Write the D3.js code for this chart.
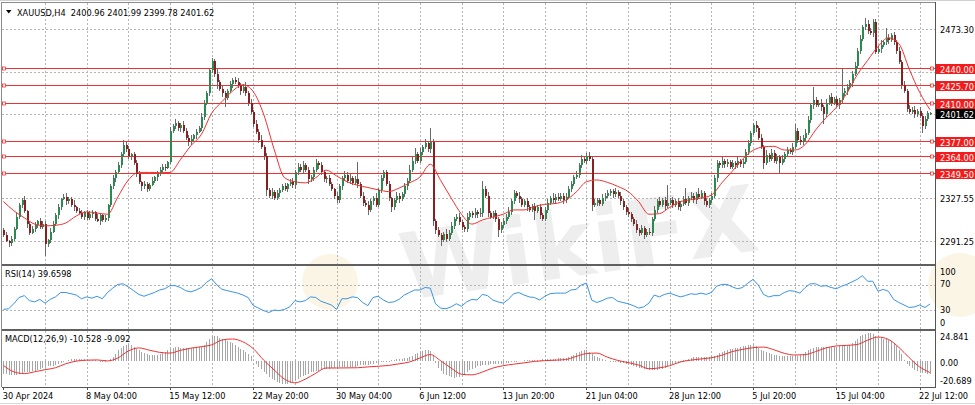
<!DOCTYPE html>
<html><head><meta charset="utf-8">
<script src="https://cdn.jsdelivr.net/npm/d3@7/dist/d3.min.js"></script>
<style>html,body{margin:0;padding:0;background:#fff;overflow:hidden}svg{display:block}</style>
</head><body><svg id="c" width="975" height="405"></svg>
<script>
// ---------------- DATA ----------------
const header = "XAUUSD,H4  2400.96 2401.99 2399.78 2401.62";
const rsiTitle = "RSI(14) 39.6598";
const macdTitle = "MACD(12,26,9) -10.528 -9.092";
const firstOpen = 2300;
const closes = [
2296,2291,2289,2293,2301,2312,2322,2326,2317,2306,2298,2301,2305,2308,2303,2306,2288,2292,2299,2306,
2313,2320,2327,2329,2325,2327,2322,2320,2317,2315,2312,2316,2311,2314,2316,2310,2308,2313,2309,2311,
2322,2338,2345,2350,2356,2366,2374,2370,2364,2366,2358,2349,2342,2338,2340,2336,2339,2343,2346,2349,
2352,2355,2354,2359,2386,2390,2393,2388,2391,2386,2380,2376,2379,2382,2385,2388,2398,2410,2418,2438,
2446,2435,2428,2422,2418,2414,2420,2426,2430,2428,2425,2420,2424,2418,2410,2402,2392,2385,2378,2372,
2364,2335,2330,2333,2328,2332,2335,2338,2336,2340,2342,2339,2350,2355,2352,2356,2352,2344,2346,2352,
2358,2356,2350,2344,2345,2340,2336,2330,2326,2338,2345,2348,2343,2345,2341,2344,2340,2330,2324,2322,
2318,2325,2328,2322,2335,2345,2350,2340,2328,2320,2326,2330,2327,2331,2338,2343,2352,2360,2366,2360,
2368,2372,2375,2370,2376,2308,2300,2296,2292,2297,2293,2298,2304,2310,2312,2307,2303,2301,2312,2315,
2313,2316,2314,2315,2336,2330,2315,2312,2315,2310,2300,2305,2308,2312,2316,2325,2332,2330,2327,2322,
2325,2320,2318,2321,2317,2320,2313,2310,2318,2324,2328,2326,2329,2327,2330,2326,2329,2336,2340,2346,
2348,2356,2362,2360,2364,2362,2322,2324,2326,2323,2328,2330,2332,2334,2331,2333,2330,2325,2320,2316,
2314,2310,2306,2300,2298,2302,2296,2299,2298,2310,2318,2325,2322,2326,2321,2324,2326,2322,2325,2320,
2323,2327,2324,2328,2330,2326,2331,2329,2332,2325,2322,2326,2330,2345,2358,2356,2360,2357,2359,2355,
2358,2356,2360,2357,2359,2368,2375,2384,2391,2388,2380,2372,2358,2365,2362,2367,2360,2363,2358,2362,
2366,2369,2368,2372,2386,2378,2376,2380,2384,2395,2408,2412,2408,2410,2406,2400,2410,2415,2410,2413,
2408,2412,2418,2420,2424,2427,2435,2442,2455,2465,2475,2478,2472,2470,2480,2454,2456,2460,2462,2466,
2464,2468,2462,2455,2445,2425,2420,2405,2402,2404,2400,2403,2399,2390,2396,2400.96,2401.62];
const wickUp = [
2,3,1,2,2,3,2,2,4,1,2,3,2,1,3,2,2,1,3,2,
2,3,1,2,3,2,2,4,1,2,3,1,2,3,2,1,4,2,1,2,
1,2,3,2,3,2,4,2,3,1,2,3,2,1,3,2,2,3,1,2,
3,2,2,1,3,2,3,1,2,3,2,2,3,1,2,2,3,2,2,1,
3,2,4,2,3,2,2,3,1,2,3,2,2,4,2,3,2,3,2,4,
2,3,2,4,2,3,2,2,3,1,2,3,2,3,2,4,2,3,2,3,
4,2,3,2,2,3,2,1,3,2,2,3,2,4,2,3,15,2,3,2,
3,2,2,4,2,3,2,2,3,1,2,3,2,2,3,2,4,3,5,2,
3,2,4,2,12,3,2,3,2,2,4,2,3,2,2,3,2,2,3,2,
2,3,2,4,7,2,3,2,2,3,2,2,3,2,4,2,3,2,3,2,
2,3,2,2,3,2,3,2,2,3,2,4,2,3,2,2,3,2,3,2,
3,2,3,2,3,4,2,3,2,2,3,2,3,2,2,4,2,3,2,2,
3,2,2,3,2,3,2,2,3,2,3,2,4,2,3,15,2,3,2,3,
2,3,10,2,3,2,2,6,3,2,3,2,2,3,3,2,3,2,3,2,
3,2,3,2,3,2,3,2,2,3,2,3,2,4,2,3,2,3,2,3,
2,3,2,3,6,2,3,2,3,4,2,12,3,2,3,2,3,2,3,2,
3,2,22,3,2,3,2,3,2,3,2,5,3,2,2,2,3,4,2,8,
3,2,3,2,3,2,4,2,3,2,3,2,3,2,3,2,0.37];
const wickDn = [
2,1,3,2,2,1,2,3,2,4,2,1,2,3,2,2,10,2,3,1,
2,3,2,1,3,2,2,3,2,1,2,3,2,2,3,2,1,3,2,2,
3,2,2,3,1,2,3,2,2,3,2,3,2,4,2,3,2,1,2,3,
2,2,3,1,2,2,3,2,3,2,2,3,2,2,3,1,2,3,2,2,
2,3,6,2,3,8,2,2,3,2,2,3,2,2,3,2,3,2,3,2,
3,5,2,3,2,2,3,2,2,3,2,2,3,2,2,3,2,4,2,3,
2,3,2,2,3,2,2,3,2,2,3,2,2,3,2,2,3,2,3,2,
5,2,3,2,2,3,2,2,3,4,2,2,3,2,2,3,2,2,3,2,
2,3,2,2,3,4,3,2,5,2,3,2,2,3,2,2,3,2,2,3,
2,2,3,2,3,2,3,2,2,3,6,2,3,2,2,3,2,2,3,2,
2,3,2,2,8,2,3,2,2,3,2,2,3,2,2,3,2,2,3,2,
2,3,2,2,3,2,5,2,3,2,2,3,2,2,3,2,2,3,2,3,
2,3,2,2,3,2,3,2,2,3,2,3,2,2,3,2,2,3,2,2,
3,2,2,3,2,2,3,2,2,3,2,3,2,2,3,2,2,3,2,2,
2,3,2,2,3,2,3,2,2,3,2,2,5,2,3,2,2,3,9,2,
3,2,2,3,2,3,2,2,3,2,2,3,2,2,3,8,2,2,3,2,
2,3,2,2,3,2,3,2,2,3,2,2,3,2,3,2,2,3,2,2,
3,2,2,3,2,3,2,3,2,2,3,2,2,6,3,2,1.18];
// moving average (red line on price), one value every 4 bars
const maStep = 4;
const maValues = [
2325,2317,2311,2305.5,2304,2304.5,2306.5,2312.5,2316,2315,2314,2329,2343.5,2350,2350,2349.8,2350,2361,2373,2382.5,
2401,2411,2420,2425.5,2419.6,2400,2370,2345.5,2342,2341,2345.5,2352,2347,2342,2339,2337,2335,2333.5,2336.5,2341,
2346,2357,2343,2328,2314,2305.5,2309,2311.5,2314,2317.7,2317.7,2320.5,2322.5,2323.2,2326,2333,2342,2343.5,2341.5,2338,
2333.5,2325,2314,2314.5,2320,2324.8,2326.5,2328,2330.5,2341,2351,2361.5,2369,2372,2372.5,2369.3,2369.3,2374,2386.5,2397,
2406,2418,2434,2446.5,2458.5,2466,2461,2439,2419,2404];
// RSI(14), one value every 2 bars
const rsiStep = 2;
const rsiValues = [
31,32,40,50,53,45,43,47,41,47,51,58,58,56,54,48,51,49,52,48,
58,65,71,72,67,61,55,52,55,58,62,64,69,69,66,61,59,62,66,74,
80,70,63,61,59,57,54,50,37,33,29,26,30,29,31,35,45,43,45,51,
50,44,41,38,31,48,48,51,50,42,37,50,52,46,42,43,47,54,58,62,
62,66,65,40,33,32,35,40,36,43,47,46,55,53,46,43,41,47,56,58,
54,51,50,46,52,56,57,57,57,62,63,70,73,46,42,45,49,50,44,42,
40,37,33,35,41,54,51,55,57,54,51,53,56,55,57,55,58,68,71,71,
67,64,66,73,79,70,55,51,53,53,58,61,60,57,66,72,72,68,69,66,
64,68,71,75,79,85,76,76,60,63,60,47,42,38,34,35,38,34,39.66];
// MACD main (histogram), every bar
const macdHist = [
-10,-10.5,-11,-11,-11,-10.8,-10.2,-9.6,-9,-8.7,
-8.5,-8,-7.5,-7,-6.5,-5.5,-4.5,-3.8,-3.5,-3.4,
-3.2,-2.5,-1.5,-0.5,0.5,1.5,2,2.2,2.3,2.2,
2,1.8,1.5,1.2,1,0.8,0.5,0,-0.4,-0.5,
0.5,2,3.5,6,9,11,12.5,13.5,14,13.5,
12,10.5,9,7.5,6.5,6,5.5,5.2,5,5.3,
5.8,6.5,7.5,9,10.5,11.2,11.7,11.5,11.2,11,
10.8,10.6,10.8,11,11.2,11.5,12,13,15.5,18.5,
20.5,21,20.5,19.5,18.5,18,17,16,15,13.5,
12,10.5,9,7.5,6,4,1,-2,-4.5,-6.5,
-8.5,-10.5,-12.5,-14,-15.5,-16.5,-17.5,-18.5,-18.8,-18.2,
-17.5,-16.5,-15,-14,-13,-12,-11,-10,-9,-8.5,
-8,-7.5,-7,-6.5,-6,-6,-5.8,-5.5,-5,-4.8,
-4.6,-4.5,-4.5,-4.6,-4.6,-4.4,-4,-3.2,-3,-3,
-2.8,-2.5,-2.2,-1.5,-1,-0.7,-0.5,-0.3,0.2,0.8,
1.5,2,2,2.2,2.5,3,3.8,4.8,6,7,
8,8.5,9,9,8.5,4,-1,-5,-8,-10,
-11,-12,-12.8,-13.3,-13,-12.5,-11.5,-10,-8.5,-7,
-6,-5,-4,-3.5,-3,-2.8,-2.7,-2.5,-2.3,-2,
-2,-2,-1.8,-1.5,-1,-0.5,0,0.3,0.5,0.6,
0.8,0.8,1,1,1.2,1.3,1.5,1.8,2,2,
2,2.2,2.3,2.5,2.5,2.5,3,3.8,4.5,5.5,
6.5,7.5,8.5,9,9.5,8,6,4.5,3.5,3,
2,1.2,0.5,0,-0.2,-0.3,-0.5,-1,-1.5,-2,
-2.5,-3,-3.5,-4.2,-5,-5.5,-6,-6.5,-6.8,-7,
-7,-6.8,-6.5,-6,-5.2,-4,-3,-2,-1,-0.5,
0,0.8,1.5,2.2,2.8,3.2,3.5,3.5,3.6,3.8,
3.8,3.8,4,4.5,5.5,6.5,7.5,8.5,9.2,9.8,
10.3,10.8,11.2,11.8,12.3,12.8,13.2,13.5,13.6,12.5,
11,9.5,8.5,7.5,6.8,6.2,5.5,5,4.6,4.3,
4,4,4,4,4.2,4.5,5,6,7.5,9,
10.5,11.3,11.7,11.8,11.8,12,12,12,11.8,12,
12,12.2,12.2,12.5,12.8,13.5,15,16.5,18.5,20.5,
21.8,22.5,23,23,22,20.5,19.5,19,18.5,18,
17.5,16.5,15,12.5,9.5,6,1.4,-2,-4,-5.5,
-6.8,-7.8,-8.5,-9.3,-9.8,-10.2,-10.528];
// MACD signal, one value every 4 bars
const sigStep = 4;
const macdSignal = [
-3.3,-8.5,-10,-8.5,-6.8,-5.2,-1.9,0.2,1,1.2,0.4,2.8,8.5,11,9.2,7.4,6.8,9,10.8,12,
13.5,17.5,18.3,16,10.4,1,-7,-14.5,-17.5,-14.5,-9.7,-5.4,-5.4,-5.3,-5.2,-4.5,-4,-3.3,-2,-0.5,
2.8,5.6,0.5,-5.5,-10.5,-11,-8.7,-5.5,-3.5,-2.3,-1.2,0,0.6,1,1.5,4,6.4,6.8,3.5,0.8,
-1,-3,-6,-5.3,-3.5,-0.5,1,2,3,5,8,9.8,11.2,11.7,9.5,6.6,5.2,5.5,8,11,
12.6,13.1,13.8,17.3,19.9,18,11.5,3,-4.5,-9.092];
const levels = [2440.00, 2425.70, 2410.00, 2377.00, 2364.00, 2349.50];
const gridPrices = [2473.30, 2436.85, 2400.40, 2363.95, 2327.55, 2291.25];
const priceLabels = [2473.30, 2327.55, 2291.25];
const lastPrice = 2401.62;
const rsiTicks = [100, 70, 30, 0];
const rsiLevels = [70, 30];
const macdTicks = [24.841, 0, -20.689];
const timeLabels = ["30 Apr 2024","8 May 04:00","15 May 12:00","22 May 20:00","30 May 04:00","6 Jun 12:00",
  "13 Jun 20:00","21 Jun 04:00","28 Jun 12:00","5 Jul 20:00","15 Jul 04:00","22 Jul 12:00"];
const labelEvery = 32, gridEvery = 16;

// ---------------- LAYOUT ----------------
const W = 975, H = 405;
const L = 2, R = 935;
const PT = 3, PB = 264, RT = 265, RB = 329, MT = 330, MB = 387;
const FONT = "DejaVu Sans, Verdana, sans-serif";
const n = closes.length;

const x = d3.scaleLinear().domain([0, n - 1]).range([3.4, 3.4 + 2.603 * (n - 1)]);
const yP = d3.scaleLinear().domain([2271.99, 2495.95]).range([263, 3]);
const yR = d3.scaleLinear().domain([0, 100]).range([328.75, 266.25]);
const yM = d3.scaleLinear().domain([-20.689, 24.841]).range([386.7, 331]);

const svg = d3.select("#c").attr("font-family", FONT).attr("font-size", 8.2);
svg.append("rect").attr("width", W).attr("height", H).attr("fill", "#fff");

const defs = svg.append("defs");
[["cp", PT, PB], ["cr", RT, RB], ["cm", MT, MB]].forEach(([id, t, b]) => {
  defs.append("clipPath").attr("id", id).append("rect").attr("x", L).attr("y", t).attr("width", R - L).attr("height", b - t);
});

// watermark
const wm = svg.append("g").attr("pointer-events", "none");
wm.append("circle").attr("cx", 330).attr("cy", 282).attr("r", 28).attr("fill", "#f3dfa8").attr("opacity", 0.3);
wm.append("circle").attr("cx", 960).attr("cy", 285).attr("r", 32).attr("fill", "#f3dfa8").attr("opacity", 0.3);
wm.append("text").attr("x", 405).attr("y", 300).attr("font-size", 92).attr("font-weight", "bold")
  .attr("fill", "#dedede").attr("opacity", 0.5).attr("transform", "rotate(-8,405,300)").text("WikiFX");

// vertical grid
const vg = svg.append("g").attr("stroke", "#b5b5b5").attr("stroke-dasharray", "2,2");
vg.selectAll("line").data(d3.range(gridEvery, n, gridEvery)).join("line")
  .attr("x1", d => Math.round(x(d)) + 0.5).attr("x2", d => Math.round(x(d)) + 0.5)
  .attr("y1", PT).attr("y2", MB);

// horizontal grid (price)
const hg = svg.append("g").attr("stroke", "#b5b5b5").attr("stroke-dasharray", "2,2");
hg.selectAll("line").data(gridPrices).join("line")
  .attr("x1", L).attr("x2", R).attr("y1", d => Math.round(yP(d)) + 0.5).attr("y2", d => Math.round(yP(d)) + 0.5);
// rsi levels
hg.append("g").selectAll("line").data(rsiLevels).join("line")
  .attr("x1", L).attr("x2", R).attr("y1", d => Math.round(yR(d)) + 0.5).attr("y2", d => Math.round(yR(d)) + 0.5);

// level lines
const lv = svg.append("g");
lv.selectAll("line").data(levels).join("line")
  .attr("x1", L).attr("x2", R).attr("y1", d => Math.round(yP(d)) + 0.5).attr("y2", d => Math.round(yP(d)) + 0.5)
  .attr("stroke", "#f03030").attr("stroke-width", 1);
[4, 932].forEach(mx => {
  lv.append("g").selectAll("rect").data(levels).join("rect")
    .attr("x", mx - 1.5).attr("y", d => Math.round(yP(d)) - 1).attr("width", 3).attr("height", 3)
    .attr("fill", "#fff").attr("stroke", "#f03030").attr("stroke-width", 0.8);
});

// candles
const bars = closes.map((c, i) => {
  const o = i === 0 ? firstOpen : closes[i - 1];
  return { i, o, c, h: Math.max(o, c) + wickUp[i], l: Math.min(o, c) - wickDn[i] };
});
const cg = svg.append("g").attr("clip-path", "url(#cp)").attr("shape-rendering", "crispEdges");
cg.selectAll("line").data(bars).join("line")
  .attr("x1", d => Math.round(x(d.i)) + 0.5).attr("x2", d => Math.round(x(d.i)) + 0.5)
  .attr("y1", d => yP(d.h)).attr("y2", d => yP(d.l)).attr("stroke", "#6a6a6a");
cg.selectAll("rect").data(bars).join("rect")
  .attr("x", d => Math.round(x(d.i)))
  .attr("y", d => Math.min(yP(d.o), yP(d.c)))
  .attr("width", 2)
  .attr("height", d => Math.max(1, Math.abs(yP(d.o) - yP(d.c))))
  .attr("fill", d => d.c >= d.o ? "#2b8a4f" : "#8a1f1f");

// MA line
const maPts = maValues.map((v, k) => [x(k * maStep), yP(v)]);
svg.append("path").attr("clip-path", "url(#cp)").attr("d", d3.line().curve(d3.curveMonotoneX)(maPts))
  .attr("fill", "none").attr("stroke", "#f03030").attr("stroke-width", 1);

// RSI
const rsiPts = rsiValues.map((v, k) => [x(k * rsiStep), yR(v)]);
svg.append("path").attr("clip-path", "url(#cr)").attr("d", d3.line()(rsiPts))
  .attr("fill", "none").attr("stroke", "#3a93e6").attr("stroke-width", 1);

// MACD histogram
const mg = svg.append("g").attr("clip-path", "url(#cm)").attr("shape-rendering", "crispEdges");
mg.selectAll("rect").data(macdHist).join("rect")
  .attr("x", (d, i) => Math.round(x(i)))
  .attr("y", d => Math.min(yM(0), yM(d)))
  .attr("width", 1)
  .attr("height", d => Math.max(0.5, Math.abs(yM(d) - yM(0))))
  .attr("fill", "#a6a6a6");
const sigPts = macdSignal.map((v, k) => [x(k * sigStep), yM(v)]);
svg.append("path").attr("clip-path", "url(#cm)").attr("d", d3.line().curve(d3.curveMonotoneX)(sigPts))
  .attr("fill", "none").attr("stroke", "#f03030").attr("stroke-width", 1);

// borders / separators
const bd = svg.append("g").attr("fill", "none").attr("shape-rendering", "crispEdges");
bd.append("line").attr("x1", 0).attr("x2", W).attr("y1", 0.5).attr("y2", 0.5).attr("stroke", "#d0d0d0");
bd.append("line").attr("x1", L).attr("x2", R).attr("y1", 2.5).attr("y2", 2.5).attr("stroke", "#8c8c8c");
bd.append("line").attr("x1", 1.5).attr("x2", 1.5).attr("y1", 2).attr("y2", MB).attr("stroke", "#8c8c8c");
bd.append("line").attr("x1", R + 0.5).attr("x2", R + 0.5).attr("y1", 2).attr("y2", MB + 1).attr("stroke", "#555");
bd.append("rect").attr("x", L).attr("y", PB).attr("width", R - L).attr("height", 1.6).attr("fill", "#606060");
bd.append("rect").attr("x", L).attr("y", RB).attr("width", R - L).attr("height", 1.6).attr("fill", "#606060");
bd.append("line").attr("x1", L).attr("x2", R + 1).attr("y1", MB + 0.5).attr("y2", MB + 0.5).attr("stroke", "#555");
bd.append("line").attr("x1", 0).attr("x2", W).attr("y1", 403.5).attr("y2", 403.5).attr("stroke", "#d8d8d8");

// header texts
svg.append("path").attr("d", d3.line()([[6, 10], [11.5, 10], [8.75, 13.5]]) + "Z").attr("fill", "#000");
svg.append("text").attr("x", 17).attr("y", 15.5).attr("fill", "#000").style("white-space", "pre").text(header);
svg.append("text").attr("x", 5).attr("y", 277).attr("fill", "#000").text(rsiTitle);
svg.append("text").attr("x", 5).attr("y", 342).attr("fill", "#000").text(macdTitle);

// right axis: price labels
const ax = svg.append("g").attr("fill", "#000");
ax.selectAll("text.p").data(priceLabels).join("text").attr("class", "p")
  .attr("x", 940).attr("y", d => yP(d) + 4).text(d => d.toFixed(2));
const lbl = svg.append("g");
lbl.selectAll("rect").data(levels).join("rect")
  .attr("x", 936).attr("y", d => Math.round(yP(d)) - 4).attr("width", 39).attr("height", 10).attr("fill", "#f21c1c");
lbl.selectAll("text").data(levels).join("text")
  .attr("x", 940).attr("y", d => Math.round(yP(d)) + 4.5).attr("fill", "#fff").text(d => d.toFixed(2));
const lp = svg.append("g");
lp.append("rect").attr("x", 936).attr("y", Math.round(yP(lastPrice)) - 4).attr("width", 39).attr("height", 10).attr("fill", "#000");
lp.append("text").attr("x", 940).attr("y", Math.round(yP(lastPrice)) + 4.5).attr("fill", "#fff").text(lastPrice.toFixed(2));

// RSI axis labels
ax.selectAll("text.r").data(rsiTicks).join("text").attr("class", "r")
  .attr("x", 940).attr("y", d => d === 100 ? 275.2 : d === 70 ? 287.2 : d === 30 ? 312.9 : 325.6).text(d => d);
// MACD axis labels
ax.selectAll("text.m").data(macdTicks).join("text").attr("class", "m")
  .attr("x", 940).attr("y", d => d === macdTicks[0] ? 340.2 : d === 0 ? 365.6 : 383.6)
  .text(d => d === 0 ? "0.00" : String(d));

// time axis
const tl = d3.range(0, n, labelEvery).slice(0, timeLabels.length);
const tg = svg.append("g");
tg.selectAll("line").data(tl).join("line")
  .attr("x1", d => Math.round(x(d)) + 0.5).attr("x2", d => Math.round(x(d)) + 0.5)
  .attr("y1", MB).attr("y2", MB + 3).attr("stroke", "#555");
tg.selectAll("text").data(tl).join("text")
  .attr("x", d => x(d) - 0.7).attr("y", 398.6).attr("fill", "#000")
  .text((d, k) => timeLabels[k]);
</script>
</body></html>
